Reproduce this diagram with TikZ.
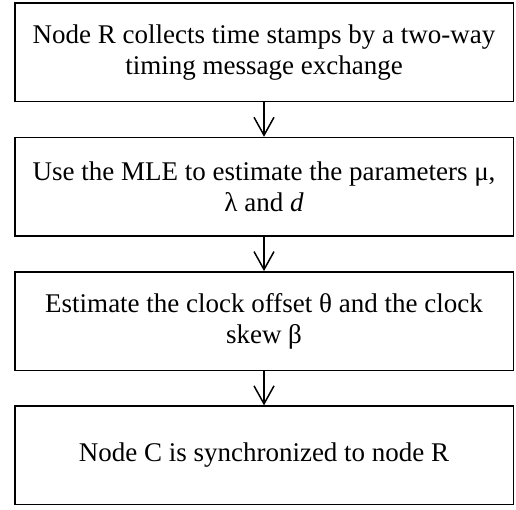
\documentclass[tikz,border=0pt]{standalone}
\usepackage{fontspec}
\setmainfont{Liberation Serif}
\usetikzlibrary{arrows.meta, positioning}

\begin{document}
\begin{tikzpicture}[
x=1pt, y=1pt,
stepnode/.style={rectangle, draw=black, fill=white, line width=1.5pt, minimum width=498.5pt, minimum height=98.5pt, align=center, font=\fontsize{27}{31}\selectfont},
node distance=34.3pt,
]
\useasboundingbox (0,0) rectangle (516,-510);
%Nodes
\node[stepnode] (collect) at (264,-52.5) {Node R collects time stamps by a two-way\\timing message exchange};
\node[stepnode] (estparam) [below=of collect] {Use the MLE to estimate the parameters μ,\\λ and \textit{d}};
\node[stepnode] (estclock) [below=of estparam] {Estimate the clock offset θ and the clock\\skew β};
\node[stepnode] (sync)     [below=of estclock] {Node C is synchronized to node R};

%Lines
\draw[-{Straight Barb[length=18pt,width=20pt]}, line width=1.5pt] (collect.south) -- (estparam.north);
\draw[-{Straight Barb[length=18pt,width=20pt]}, line width=1.5pt] (estparam.south) -- (estclock.north);
\draw[-{Straight Barb[length=18pt,width=20pt]}, line width=1.5pt] (estclock.south) -- (sync.north);

\end{tikzpicture}
\end{document}
